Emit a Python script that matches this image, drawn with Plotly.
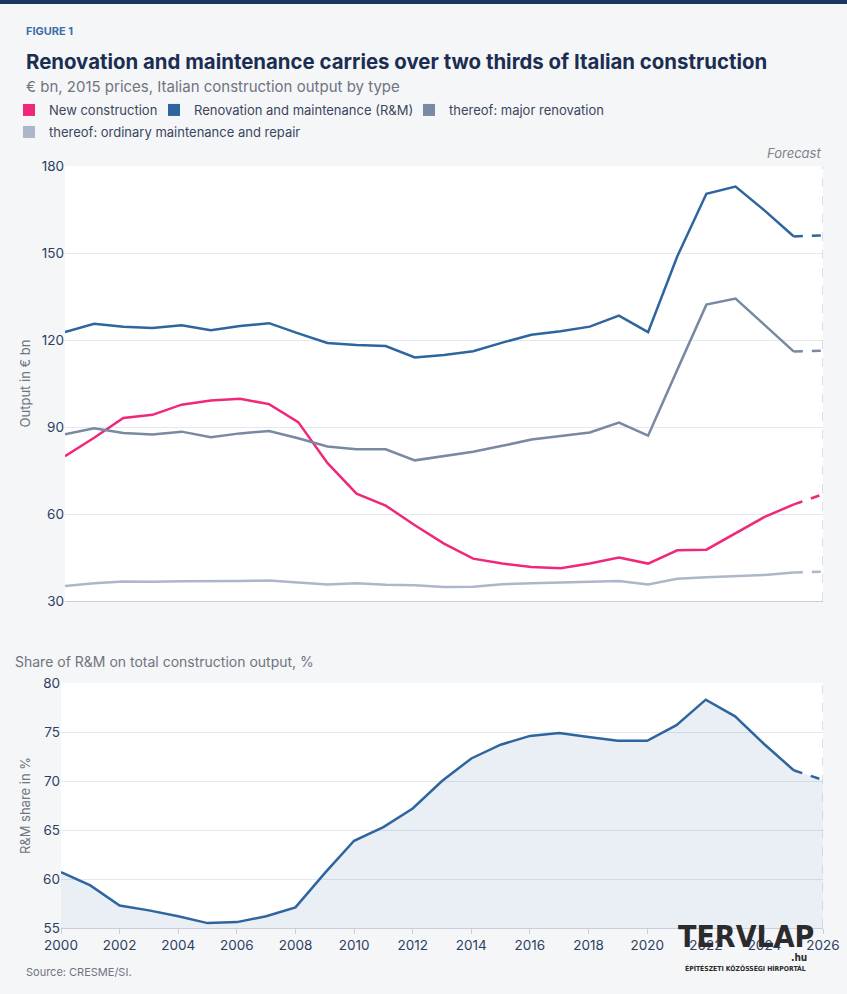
import plotly.graph_objects as go
from plotly.subplots import make_subplots

# data
years = list(range(2000, 2027))

new_construction = [79.9, 86.3, 93.1, 94.2, 97.7, 99.1, 99.7, 97.9, 91.7, 77.6,
                    67.0, 62.9, 56.1, 49.8, 44.6, 42.9, 41.7, 41.3, 42.9, 45.0,
                    42.9, 47.5, 47.7, 53.4, 59.0, 63.3, 66.8]
renovation = [122.7, 125.6, 124.6, 124.1, 125.1, 123.4, 124.8, 125.8, 122.3, 119.0,
              118.3, 117.9, 114.0, 114.8, 116.1, 119.1, 121.8, 123.0, 124.6, 128.4,
              122.7, 148.8, 170.4, 172.9, 164.6, 155.7, 156.1]
major_renovation = [87.5, 89.6, 87.9, 87.4, 88.4, 86.5, 87.8, 88.6, 86.1, 83.3,
                    82.3, 82.3, 78.5, 80.0, 81.5, 83.5, 85.7, 86.9, 88.1, 91.5,
                    87.0, 109.7, 132.2, 134.3, 125.3, 116.0, 116.3]
ordinary_maintenance = [35.2, 36.1, 36.7, 36.6, 36.8, 36.8, 36.9, 37.1, 36.4, 35.7,
                        36.1, 35.6, 35.4, 34.8, 34.9, 35.8, 36.1, 36.3, 36.5, 36.9,
                        35.7, 37.7, 38.2, 38.5, 39.0, 39.8, 40.1]
rm_share = [60.7, 59.35, 57.3, 56.8, 56.2, 55.5, 55.6, 56.2, 57.1, 60.6,
            63.9, 65.3, 67.2, 70.0, 72.3, 73.7, 74.6, 74.9, 74.5, 74.1,
            74.1, 75.7, 78.3, 76.6, 73.75, 71.1, 70.1]

series_names = ["New construction", "Renovation and maintenance (R&M)",
                "thereof: major renovation", "thereof: ordinary maintenance and repair"]
series_colors = ["#f0287a", "#2f659f", "#7889a1", "#adb7c7"]

W, H = 847, 994
FONT = "Inter, 'Open Sans', sans-serif"
NAVY = "#1b2e52"
TICK = "#2d3f62"
GREY_TXT = "#6f7480"
GRID = "#e5e8ee"
AXIS = "#c9ced8"

FORECAST_START = years.index(2025)

# one legend box per entry so the swatches sit where the reference has them
legend_ids = ["legend", "legend2", "legend3", "legend4"]
legend_pos = [(9, 110), (154, 110), (409, 110), (9, 132)]

fig = make_subplots(rows=2, cols=1)

# top panel: output by type, solid history + dashed forecast step
for name, color, values, lg in zip(series_names, series_colors,
                                   [new_construction, renovation, major_renovation, ordinary_maintenance],
                                   legend_ids):
    fig.add_trace(go.Scatter(
        x=years[:FORECAST_START + 1], y=values[:FORECAST_START + 1],
        mode="lines", line=dict(color=color, width=2.5),
        showlegend=False, name=name,
    ), row=1, col=1)
    fig.add_trace(go.Scatter(
        x=years[FORECAST_START:], y=values[FORECAST_START:],
        mode="lines", line=dict(color=color, width=2.5, dash="dash"),
        showlegend=False, name=name,
    ), row=1, col=1)
    # legend entry with a square swatch
    fig.add_trace(go.Scatter(
        x=[None], y=[None], mode="markers", name=name, legend=lg,
        marker=dict(symbol="square", size=12, color=color),
    ), row=1, col=1)

# bottom panel: R&M share
fill = "rgba(47,101,159,0.10)"
fig.add_trace(go.Scatter(
    x=years[:FORECAST_START + 1], y=rm_share[:FORECAST_START + 1],
    mode="lines", line=dict(color="#2f659f", width=2.5),
    fill="tozeroy", fillcolor=fill, showlegend=False, name="R&M share",
), row=2, col=1)
fig.add_trace(go.Scatter(
    x=years[FORECAST_START:], y=rm_share[FORECAST_START:],
    mode="lines", line=dict(color="#2f659f", width=2.5, dash="dash"),
    fill="tozeroy", fillcolor=fill, showlegend=False, name="R&M share",
), row=2, col=1)

fig.update_xaxes(range=[2000, 2026], showgrid=False, zeroline=False, automargin=False,
                 showline=True, linecolor=AXIS, linewidth=1)
fig.update_xaxes(showticklabels=False, ticks="", domain=[65 / W, 823 / W], row=1, col=1)
fig.update_xaxes(tickvals=years[::2], ticks="outside", ticklen=5, tickcolor=AXIS,
                 tickfont=dict(family=FONT, size=13.5, color=TICK),
                 domain=[61 / W, 823 / W], row=2, col=1)

fig.update_yaxes(showgrid=True, gridcolor=GRID, gridwidth=1, zeroline=False, automargin=False,
                 showline=False, ticks="", tickfont=dict(family=FONT, size=13.5, color=TICK),
                 title_font=dict(family=FONT, size=13, color=GREY_TXT))
fig.update_yaxes(range=[30, 180], dtick=30, domain=[1 - 601 / H, 1 - 166 / H],
                 title_text="Output in € bn", title_standoff=8, row=1, col=1)
fig.update_yaxes(range=[55, 80], dtick=5, domain=[1 - 928 / H, 1 - 683 / H],
                 title_text="R&M share in %", title_standoff=9, row=2, col=1)

# dashed forecast boundary on the right edge of both panels
for xref, yref in [("x", "y domain"), ("x2", "y2 domain")]:
    fig.add_shape(type="line", xref=xref, yref=yref, x0=2026, x1=2026, y0=0, y1=1,
                  line=dict(color="#b9c0cc", width=1, dash="dash"))

annotations = [
    dict(text="<b>FIGURE 1</b>", x=24, y=31, font=dict(size=11, color="#3d6ea8")),
    dict(text="<b>Renovation and maintenance carries over two thirds of Italian construction</b>",
         x=24, y=61, font=dict(size=20.4, color=NAVY)),
    dict(text="€ bn, 2015 prices, Italian construction output by type",
         x=24, y=87, font=dict(size=15, color=GREY_TXT)),
    dict(text="Share of R&M on total construction output, %",
         x=13, y=661, font=dict(size=14, color=GREY_TXT)),
    dict(text="Source: CRESME/SI.", x=24, y=972, font=dict(size=11, color=GREY_TXT)),
]
for a in annotations:
    fig.add_annotation(text=a["text"], xref="paper", yref="paper",
                       x=a["x"] / W, y=1 - a["y"] / H,
                       xanchor="left", yanchor="middle", showarrow=False,
                       font=dict(family=FONT, **a["font"]))

fig.add_annotation(text="<i>Forecast</i>", xref="x", yref="paper", x=2026, y=1 - 153 / H,
                   xanchor="right", yanchor="middle", showarrow=False,
                   font=dict(family=FONT, size=13, color="#7d828c"))

# watermark logo
LOGO_FONT = "'DejaVu Sans Condensed', 'Liberation Sans Narrow', sans-serif"
fig.add_annotation(text="<b>TERVLAP</b>", xref="paper", yref="paper",
                   x=676 / W, y=1 - 936 / H, xanchor="left", yanchor="middle",
                   showarrow=False, font=dict(family=LOGO_FONT, size=30, color="#2b2b2d"))
fig.add_annotation(text="<b>.hu</b>", xref="paper", yref="paper",
                   x=809 / W, y=1 - 957 / H, xanchor="right", yanchor="middle",
                   showarrow=False, font=dict(family=LOGO_FONT, size=10, color="#2b2b2d"))
fig.add_annotation(text="<b>ÉPÍTÉSZETI KÖZÖSSÉGI HÍRPORTÁL</b>", xref="paper", yref="paper",
                   x=808 / W, y=1 - 968 / H, xanchor="right", yanchor="middle",
                   showarrow=False, font=dict(family=LOGO_FONT, size=6.8, color="#2b2b2d"))

# top navy strip
fig.add_shape(type="rect", xref="paper", yref="paper", x0=0, x1=1, y0=1 - 4 / H, y1=1,
              line_width=0, fillcolor="#1c355e")

legend_style = dict(orientation="h", xanchor="left", yanchor="middle",
                    font=dict(family=FONT, size=13, color="#3a4660"),
                    bgcolor="rgba(0,0,0,0)", itemclick=False)
legends = {lg: dict(x=px / W, y=1 - py / H, **legend_style)
           for lg, (px, py) in zip(legend_ids, legend_pos)}

fig.update_layout(
    width=W, height=H,
    margin=dict(l=0, r=0, t=0, b=0, autoexpand=False),
    paper_bgcolor="#f5f6f8", plot_bgcolor="#ffffff",
    font=dict(family=FONT, color=TICK),
    hovermode="x unified",
    **legends,
)

# drop the default page margin so the figure sits at the window origin
fig.write_html("out.html", config={"displayModeBar": False},
               post_script="document.body.style.margin='0';document.body.style.overflow='hidden';")
